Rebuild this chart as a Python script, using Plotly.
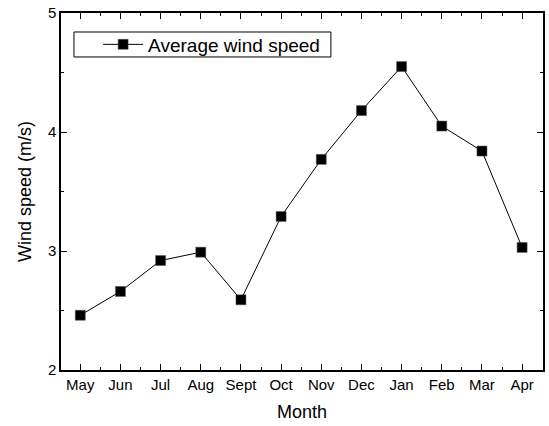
import plotly.graph_objects as go

months = ["May", "Jun", "Jul", "Aug", "Sept", "Oct", "Nov", "Dec", "Jan", "Feb", "Mar", "Apr"]
wind_speed = [2.46, 2.66, 2.92, 2.99, 2.59, 3.29, 3.77, 4.18, 4.55, 4.05, 3.84, 3.03]
y_ticks = [2, 3, 4, 5]

x_pos = list(range(len(months)))
font = "Arial, Liberation Sans, sans-serif"

fig = go.Figure()
fig.add_trace(go.Scatter(
    x=x_pos, y=wind_speed, mode="lines+markers", name="Average wind speed",
    line=dict(color="black", width=1),
    marker=dict(symbol="square", size=10, color="black", line=dict(color="#555", width=0.5)),
))

# legend frame (layout decoration, paper coordinates)
fig.add_shape(type="rect", xref="paper", yref="paper",
              x0=0.0269, x1=0.56, y0=0.8768, y1=0.9468,
              line=dict(color="black", width=1), fillcolor="rgba(0,0,0,0)", layer="above")

fig.update_layout(
    width=549, height=426,
    margin=dict(l=61, r=4, t=13, b=56),
    paper_bgcolor="white", plot_bgcolor="white",
    font=dict(family=font, color="black", size=15),
    showlegend=True,
    legend=dict(x=0.077, y=0.965, xanchor="left", yanchor="top",
                borderwidth=0, bgcolor="rgba(0,0,0,0)",
                font=dict(size=19, family=font), itemwidth=40,
                tracegroupgap=0),
    xaxis=dict(
        range=[-0.48, 11.52], tickmode="array", tickvals=x_pos, ticktext=months,
        showgrid=False, zeroline=False, showline=True, linecolor="black", linewidth=1.5,
        mirror="ticks", ticks="inside", ticklen=6, tickwidth=1, tickcolor="black",
        tickfont=dict(size=15),
        minor=dict(tickvals=[i + 0.5 for i in x_pos[:-1]], ticks="inside", ticklen=3,
                   tickwidth=1, tickcolor="black", showgrid=False),
        title=dict(text="Month", font=dict(size=18), standoff=14),
    ),
    yaxis=dict(
        range=[2, 5], tickmode="array", tickvals=y_ticks,
        showgrid=False, zeroline=False, showline=True, linecolor="black", linewidth=1.5,
        mirror="ticks", ticks="inside", ticklen=6, tickwidth=1, tickcolor="black",
        tickfont=dict(size=15),
        minor=dict(tickvals=[2.5, 3.5, 4.5], ticks="inside", ticklen=3,
                   tickwidth=1, tickcolor="black", showgrid=False),
        title=dict(text="Wind speed (m/s)", font=dict(size=18), standoff=12),
    ),
)

fig.write_html("out.html")
